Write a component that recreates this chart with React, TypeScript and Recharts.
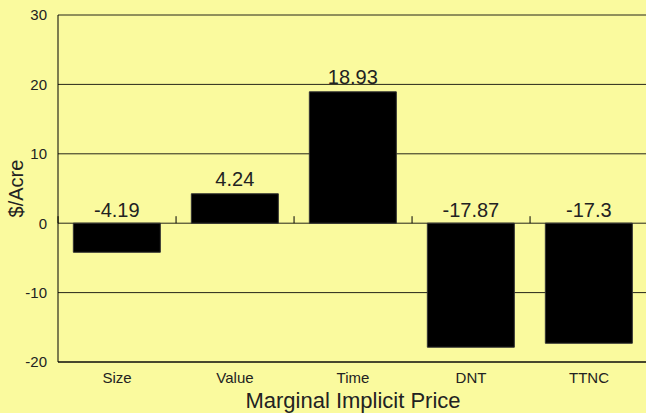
import React from "react";
import { BarChart, Bar, XAxis, YAxis, CartesianGrid, LabelList } from "recharts";

const categories = ["Size", "Value", "Time", "DNT", "TTNC"];
const values = [-4.19, 4.24, 18.93, -17.87, -17.3];
const yTicks = [-20, -10, 0, 10, 20, 30];

const data = categories.map((c, i) => ({ name: c, v: values[i] }));

const GAP = 0.13;
const FONT = "'Liberation Sans', Arial, sans-serif";
const TEXT = "#222";

const ValueLabel = (props: any) => {
  const vb = props.viewBox && props.viewBox.width !== undefined ? props.viewBox : props;
  const x = Number(vb.x);
  const y = Number(vb.y);
  const width = Number(vb.width);
  const height = Number(vb.height);
  const value = Number(props.value);
  const top = Math.min(y, y + height);
  const bottom = Math.max(y, y + height);
  const zeroY = value >= 0 ? bottom : top;
  const labelY = value >= 0 ? top - 8 : zeroY - 6;
  const band = width / (1 - 2 * GAP);
  const bx = x - band * GAP;
  return (
    <g>
      <line x1={bx} x2={bx} y1={zeroY - 7} y2={zeroY} stroke="#000" strokeWidth={1} />
      <text
        x={x + width / 2}
        y={labelY}
        textAnchor="middle"
        fontFamily={FONT}
        fontSize={20}
        fill={TEXT}
      >
        {String(props.value)}
      </text>
    </g>
  );
};

export default function App() {
  return (
    <div
      style={{
        position: "fixed",
        left: 0,
        top: 0,
        width: 646,
        height: 413,
        overflow: "hidden",
        background: "#FAFA9E",
      }}
    >
      <BarChart
        width={648}
        height={413}
        data={data}
        margin={{ top: 15, right: 0, bottom: 21, left: 0 }}
        barCategoryGap={`${GAP * 100}%`}
      >
        <CartesianGrid vertical={false} stroke="#000" strokeOpacity={0.85} />
        <XAxis
          dataKey="name"
          axisLine={{ stroke: "#000" }}
          tickLine={false}
          height={30}
          tick={{ fontFamily: FONT, fontSize: 15, fill: TEXT }}
          tickMargin={4}
          label={{
            value: "Marginal Implicit Price",
            position: "insideBottom",
            offset: -16,
            style: { fontFamily: FONT, fontSize: 22, fill: TEXT },
          }}
        />
        <YAxis
          domain={[-20, 30]}
          ticks={yTicks}
          interval={0}
          width={58}
          axisLine={{ stroke: "#000" }}
          tickLine={false}
          tickMargin={5}
          tick={{ fontFamily: FONT, fontSize: 15, fill: TEXT }}
          label={{
            value: "$/Acre",
            angle: -90,
            position: "insideLeft",
            offset: 16,
            style: { fontFamily: FONT, fontSize: 20, fill: TEXT, textAnchor: "middle" },
          }}
        />
        <Bar dataKey="v" fill="#000" stroke="#333" strokeWidth={1} isAnimationActive={false}>
          <LabelList dataKey="v" content={<ValueLabel />} />
        </Bar>
      </BarChart>
    </div>
  );
}
